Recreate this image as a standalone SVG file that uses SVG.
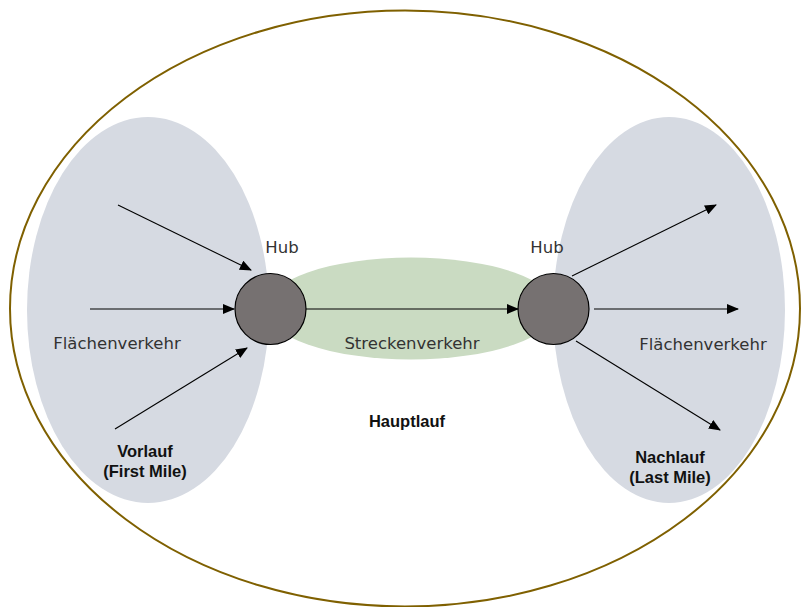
<svg xmlns="http://www.w3.org/2000/svg" width="803" height="607" viewBox="0 0 803 607">
<style>
.reg{font-family:"DejaVu Sans","Liberation Sans",sans-serif;font-size:16.5px;fill:#333}
.bold{font-family:"Liberation Sans","DejaVu Sans",sans-serif;font-size:16.5px;font-weight:bold;fill:#111}
.area{fill:#d6dae2}
.hub{fill:#767171;stroke:#000;stroke-width:1.2}
.arr{stroke:#000;stroke-width:1.1;fill:none;marker-end:url(#ah)}
</style>
<defs>
<marker id="ah" markerUnits="userSpaceOnUse" markerWidth="12" markerHeight="10" refX="11" refY="5" orient="auto">
<path d="M0,0 L12,5 L0,10 Z" fill="#000"/>
</marker>
</defs>
<rect width="803" height="607" fill="#fff"/>
<g id="hauptlauf">
<ellipse cx="405" cy="308.5" rx="395" ry="298" fill="none" stroke="#7f6000" stroke-width="2"/>
<text class="bold" x="407" y="427" text-anchor="middle">Hauptlauf</text>
</g>
<g id="vorlauf">
<ellipse class="area" cx="148" cy="310" rx="121" ry="193"/>
<text class="reg" x="117" y="349" text-anchor="middle">Flächenverkehr</text>
<text class="bold" x="145" y="457" text-anchor="middle">Vorlauf</text>
<text class="bold" x="145" y="477" text-anchor="middle">(First Mile)</text>
</g>
<g id="nachlauf">
<ellipse class="area" cx="669" cy="310" rx="116" ry="193"/>
<text class="reg" x="703" y="350" text-anchor="middle">Flächenverkehr</text>
<text class="bold" x="670" y="463" text-anchor="middle">Nachlauf</text>
<text class="bold" x="670" y="483" text-anchor="middle">(Last Mile)</text>
</g>
<g id="streckenverkehr">
<ellipse cx="411" cy="308.5" rx="146" ry="51" fill="#cadbc2"/>
<text class="reg" x="412" y="349" text-anchor="middle">Streckenverkehr</text>
</g>
<g id="hub-left">
<circle class="hub" cx="270.5" cy="309" r="35.5"/>
<text class="reg" x="282" y="253" text-anchor="middle">Hub</text>
</g>
<g id="hub-right">
<circle class="hub" cx="553.5" cy="309" r="35.5"/>
<text class="reg" x="547" y="253" text-anchor="middle">Hub</text>
</g>
<g id="connectors">
<line class="arr" x1="118" y1="205" x2="251" y2="270"/>
<line class="arr" x1="90" y1="309" x2="234" y2="309"/>
<line class="arr" x1="115" y1="429" x2="247" y2="348"/>
<line class="arr" x1="306" y1="309" x2="518" y2="309"/>
<line class="arr" x1="572" y1="276" x2="716" y2="205"/>
<line class="arr" x1="594" y1="309" x2="738" y2="309"/>
<line class="arr" x1="576" y1="341" x2="720" y2="430"/>
</g>
</svg>
